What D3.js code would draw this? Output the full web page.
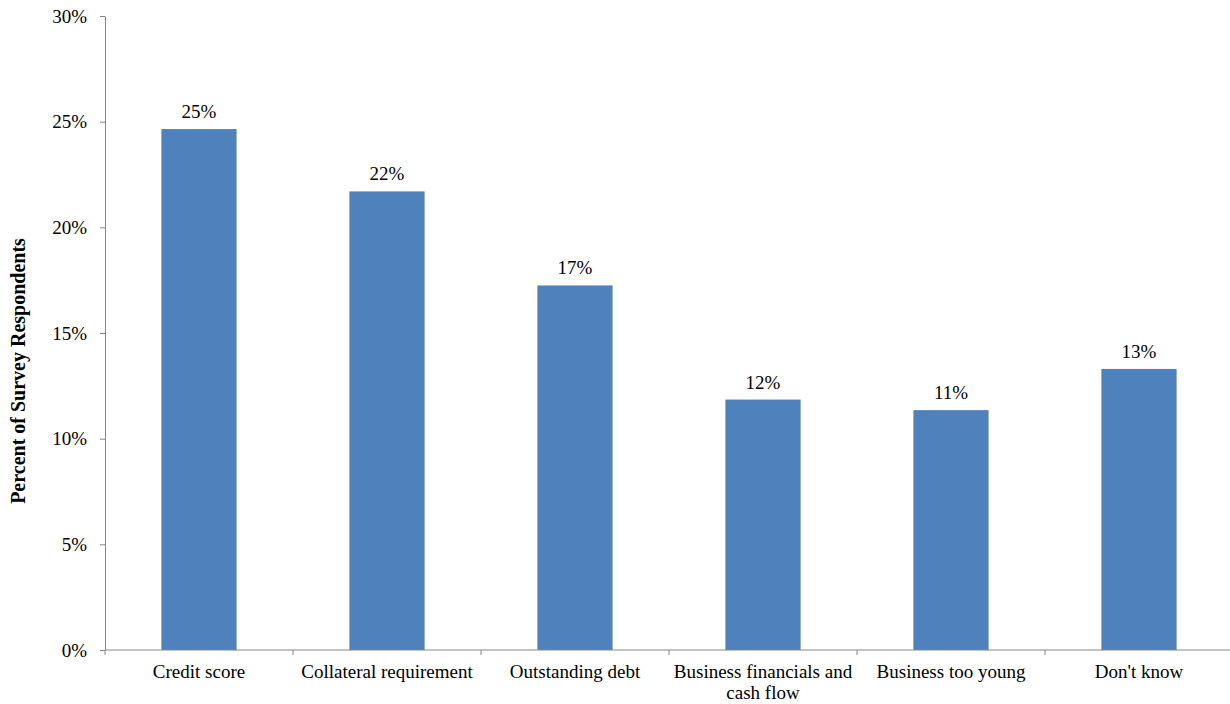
<!DOCTYPE html>
<html>
<head>
<meta charset="utf-8">
<script src="https://cdn.jsdelivr.net/npm/d3@7"></script>
<style>
  html, body { margin: 0; padding: 0; background: #fff; }
  svg { display: block; }
  svg text { font-family: "Liberation Serif", "DejaVu Serif", serif !important; fill: #000; }
</style>
</head>
<body>
<svg id="chart" width="1230" height="704"></svg>
<script>
const categories = ["Credit score", "Collateral requirement", "Outstanding debt", "Business financials and cash flow", "Business too young", "Don't know"];
const categoryLines = [["Credit score"], ["Collateral requirement"], ["Outstanding debt"], ["Business financials and", "cash flow"], ["Business too young"], ["Don't know"]];
const values = [24.65, 21.7, 17.25, 11.85, 11.35, 13.3];
const valueLabels = ["25%", "22%", "17%", "12%", "11%", "13%"];
const yTicks = [0, 5, 10, 15, 20, 25, 30];
const yTitle = "Percent of Survey Respondents";

(function () {
const svg = d3.select("#chart");
const mLeft = 105, mRight = 1233, mTop = 16, mBottom = 650;
const FONT = "Liberation Serif";

const x = d3.scaleBand().domain(categories).range([mLeft, mRight]).paddingInner(0.6).paddingOuter(0.3);
const y = d3.scaleLinear().domain([0, 30]).range([mBottom, mTop]);
const axisColor = "#868686";

// bars
svg.selectAll("rect.bar").data(values).enter().append("rect")
  .attr("class", "bar")
  .attr("x", (d, i) => x(categories[i]))
  .attr("width", x.bandwidth())
  .attr("y", d => y(d))
  .attr("height", d => y(0) - y(d))
  .attr("fill", "#4F81BD");

// value labels
svg.selectAll("text.val").data(values).enter().append("text")
  .attr("class", "val")
  .attr("x", (d, i) => x(categories[i]) + x.bandwidth() / 2)
  .attr("y", d => y(d) - 11)
  .attr("text-anchor", "middle")
  .attr("font-family", FONT)
  .attr("font-size", 19)
  .text((d, i) => valueLabels[i]);

// y axis
const yAxis = d3.axisLeft(y).tickValues(yTicks).tickFormat(d => d + "%").tickSize(5).tickSizeOuter(0);
const gy = svg.append("g").attr("transform", `translate(${mLeft},0)`).call(yAxis);
gy.attr("font-family", FONT).attr("font-size", 19);
gy.select(".domain").attr("stroke", axisColor);
gy.selectAll(".tick line").attr("stroke", axisColor);
gy.selectAll(".tick text").attr("fill", "#000").attr("x", -18);

// x axis
const step = x.step();
const boundaries = d3.range(categories.length + 1).map(i => mLeft + i * step);
const gx = svg.append("g");
gx.append("line").attr("x1", mLeft).attr("x2", 1230).attr("y1", mBottom).attr("y2", mBottom).attr("stroke", axisColor);
gx.selectAll("line.tk").data(boundaries).enter().append("line")
  .attr("class", "tk")
  .attr("x1", d => d).attr("x2", d => d)
  .attr("y1", mBottom).attr("y2", mBottom + 5)
  .attr("stroke", axisColor);

categoryLines.forEach((lines, i) => {
  const cx = x(categories[i]) + x.bandwidth() / 2;
  const t = svg.append("text")
    .attr("x", cx)
    .attr("y", 678)
    .attr("text-anchor", "middle")
    .attr("font-family", FONT)
    .attr("font-size", 19);
  lines.forEach((ln, j) => {
    t.append("tspan").attr("x", cx).attr("dy", j === 0 ? 0 : 21).text(ln);
  });
});

// y title
svg.append("text")
  .attr("transform", `translate(25,371) rotate(-90)`)
  .attr("text-anchor", "middle")
  .attr("font-family", FONT)
  .attr("font-size", 20)
  .attr("font-weight", "bold")
  .text(yTitle);
})();
</script>
</body>
</html>
